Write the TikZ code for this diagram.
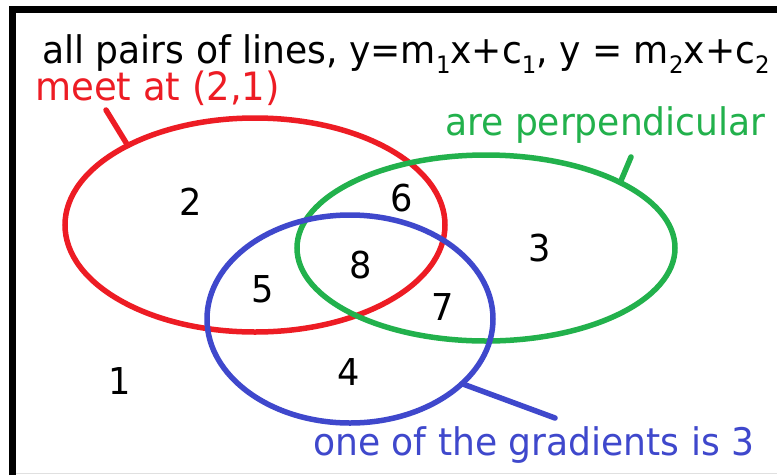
\documentclass[tikz,border=0pt]{standalone}
\usepackage{fontspec}
\setmainfont{DejaVu Sans}[FakeStretch=0.95]
\usetikzlibrary{shapes.geometric}
\definecolor{pred}{RGB}{237,28,36}
\definecolor{pgreen}{RGB}{34,177,76}
\definecolor{pblue}{RGB}{63,72,204}
\tikzset{
  setellipse/.style={ellipse, draw, line width=5.5pt, inner sep=0pt, outer sep=0pt},
  pointer/.style={line width=5.5pt, line cap=round},
  num/.style={font=\fontsize{37}{40}\selectfont, inner sep=0pt},
  lbl/.style={anchor=base west, inner sep=0pt, font=\fontsize{38}{44}\selectfont},
}
\newcommand{\sbx}[1]{\raisebox{-0.28em}{\fontsize{24}{26}\selectfont #1}}
\begin{document}
\begin{tikzpicture}[x=1pt,y=-1pt]
\useasboundingbox (0,0) rectangle (777,475);
\fill[white] (0,0) rectangle (777,475);
\draw[black, line width=7pt] (12,475) -- (12,9.5) -- (777,9.5);
\draw[black!12, line width=1pt] (16,473.5) -- (777,473.5);

\node[setellipse, pred, minimum width=380pt, minimum height=214pt] (red) at (255,225) {};
\node[setellipse, pgreen, minimum width=378pt, minimum height=186pt] (green) at (486,248) {};
\node[setellipse, pblue, minimum width=286pt, minimum height=208pt] (blue) at (350,319) {};

\coordinate (rp) at (106,110);
\coordinate (gp) at (631,157);
\coordinate (bp) at (555,418);
\draw[pointer, pred] (rp) -- (red.148);
\draw[pointer, pgreen] (gp) -- (green.26);
\draw[pointer, pblue] (bp) -- (blue.-30);

\node[lbl] (title) at (42,63) {all pairs of lines, y=m\sbx{1}x+c\sbx{1}, y = m\sbx{2}x+c\sbx{2}};
\node[lbl, pred, font=\fontsize{39}{44}\selectfont] (redlbl) at (35,100) {meet at (2,1)};
\node[lbl, pgreen] (greenlbl) at (445,135) {are perpendicular};
\node[lbl, pblue] (bluelbl) at (313,455) {one of the gradients is 3};

\node[num] (n1) at (120,381) {1};
\node[num] (n2) at (191,202) {2};
\node[num] (n3) at (540,248) {3};
\node[num] (n4) at (349,372) {4};
\node[num] (n5) at (263,289) {5};
\node[num] (n6) at (402,198) {6};
\node[num] (n7) at (443,307) {7};
\node[num] (n8) at (361,265) {8};
\end{tikzpicture}
\end{document}
